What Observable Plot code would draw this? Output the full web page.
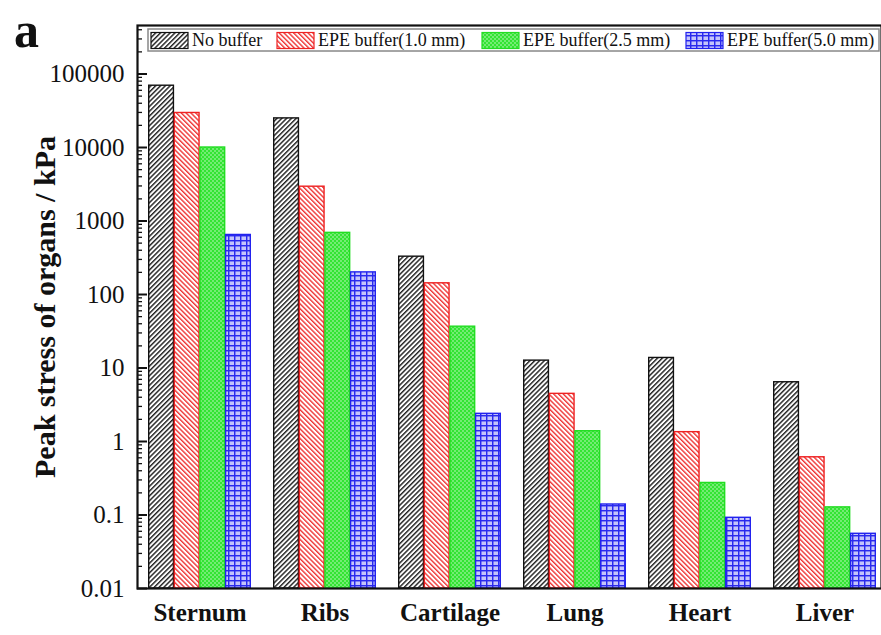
<!DOCTYPE html>
<html><head><meta charset="utf-8">
<script src="https://cdn.jsdelivr.net/npm/d3@7"></script>
<script src="https://cdn.jsdelivr.net/npm/@observablehq/plot@0.6"></script>
<style>
body{margin:0;background:#fff;}
#chart svg{font-family:"Liberation Serif","Times New Roman",serif;background:#fff;}
#chart svg text{font-family:"Liberation Serif","Times New Roman",serif;}
</style></head><body><div id="chart"></div>
<script>
const organs = ["Sternum", "Ribs", "Cartilage", "Lung", "Heart", "Liver"];
const seriesNames = ["No buffer", "EPE buffer(1.0 mm)", "EPE buffer(2.5 mm)", "EPE buffer(5.0 mm)"];
const noBuffer = [69300, 24900, 327, 12.6, 13.7, 6.4];
const epe10 = [29500, 2930, 142, 4.45, 1.34, 0.61];
const epe25 = [10000, 690, 36.5, 1.38, 0.273, 0.127];
const epe50 = [646, 200, 2.38, 0.139, 0.0916, 0.0555];
const yTicks = [0.01, 0.1, 1, 10, 100, 1000, 10000, 100000];
const yTickLabels = ["0.01", "0.1", "1", "10", "100", "1000", "10000", "100000"];
const yTitle = "Peak stress of organs / kPa";
const panelLabel = "a";

const seriesValues = [noBuffer, epe10, epe25, epe50];
const strokeColors = ["#111111", "#ee2222", "#22dd22", "#2222ee"];

const W = 881, H = 635, mL = 137, mT = 25, mB = 47, mR = 0;
const xRange = [137, 887], padIn = 0.18, padOut = 0.09;
const bw = d3.scaleBand().domain(organs).range(xRange).paddingInner(padIn).paddingOuter(padOut).bandwidth();
const q = bw / 4;

const data = organs.flatMap((o, i) => seriesValues.map((vals, j) => ({organ: o, series: j, value: vals[i]})));

// minor ticks (2..9 per decade)
const minorTicks = [];
for (let e = -2; e <= 5; e++) for (let m = 2; m <= 9; m++) {
  const v = +(m * Math.pow(10, e)).toPrecision(3);
  if (v < 457000) minorTicks.push(v);
}

function defsMark() {
  const g = d3.create("svg:g");
  const defs = g.append("defs");
  let p = defs.append("pattern").attr("id", "pat0").attr("patternUnits", "userSpaceOnUse")
    .attr("width", 3.4).attr("height", 3.4).attr("patternTransform", "rotate(45)");
  p.append("rect").attr("width", 3.4).attr("height", 3.4).attr("fill", "#fff");
  p.append("line").attr("x1", 0.7).attr("x2", 0.7).attr("y1", 0).attr("y2", 3.4).attr("stroke", "#222").attr("stroke-width", 1.5);
  p = defs.append("pattern").attr("id", "pat1").attr("patternUnits", "userSpaceOnUse")
    .attr("width", 3.4).attr("height", 3.4).attr("patternTransform", "rotate(-45)");
  p.append("rect").attr("width", 3.4).attr("height", 3.4).attr("fill", "#fff");
  p.append("line").attr("x1", 0.7).attr("x2", 0.7).attr("y1", 0).attr("y2", 3.4).attr("stroke", "#ee3333").attr("stroke-width", 1.4);
  p = defs.append("pattern").attr("id", "pat2").attr("patternUnits", "userSpaceOnUse")
    .attr("width", 4).attr("height", 4);
  p.append("rect").attr("width", 4).attr("height", 4).attr("fill", "#33e433");
  p.append("circle").attr("cx", 1).attr("cy", 1).attr("r", 0.8).attr("fill", "#c8f8c8");
  p.append("circle").attr("cx", 3).attr("cy", 3).attr("r", 0.8).attr("fill", "#c8f8c8");
  p = defs.append("pattern").attr("id", "pat3").attr("patternUnits", "userSpaceOnUse")
    .attr("width", 6).attr("height", 5);
  p.append("rect").attr("width", 6).attr("height", 5).attr("fill", "#c4c4fb");
  p.append("line").attr("x1", 0).attr("x2", 6).attr("y1", 0.7).attr("y2", 0.7).attr("stroke", "#2a2aee").attr("stroke-width", 1.5);
  p.append("line").attr("x1", 0.7).attr("x2", 0.7).attr("y1", 0).attr("y2", 5).attr("stroke", "#2a2aee").attr("stroke-width", 1.5);
  return g.node();
}

function legendMark() {
  const g = d3.create("svg:g").attr("text-anchor", "start");
  g.append("rect").attr("x", 148).attr("y", 29).attr("width", 731).attr("height", 22)
    .attr("fill", "#fff").attr("stroke", "#888").attr("stroke-width", 1.5);
  const xs = [151, 277, 482, 686];
  seriesNames.forEach((name, j) => {
    g.append("rect").attr("x", xs[j]).attr("y", 32.5).attr("width", 37).attr("height", 16)
      .attr("fill", `url(#pat${j})`).attr("stroke", strokeColors[j]).attr("stroke-width", 1.2);
    g.append("text").attr("x", xs[j] + 41).attr("y", 46).attr("font-size", 18)
      .attr("text-anchor", "start").attr("fill", "#111").text(name);
  });
  g.append("text").attr("x", 14).attr("y", 47).attr("font-size", 50).attr("font-weight", "bold")
    .attr("text-anchor", "start").attr("fill", "#111").text(panelLabel);
  return g.node();
}

const barMarks = seriesValues.map((_, j) => Plot.barY(data.filter(d => d.series === j), {
  x: "organ", y1: 0.01, y2: "value",
  fill: `url(#pat${j})`, stroke: strokeColors[j], strokeWidth: 1.4,
  insetLeft: j * q + 0.7, insetRight: (3 - j) * q + 0.7
}));

const plot = Plot.plot({
  width: W, height: H,
  marginLeft: mL, marginTop: mT, marginBottom: mB, marginRight: mR,
  style: {fontFamily: "'Liberation Serif','Times New Roman',serif", background: "#fff", color: "#111"},
  x: {domain: organs, range: xRange, paddingInner: padIn, paddingOuter: padOut},
  y: {type: "log", domain: [0.01, 457000]},
  marks: [
    defsMark,
    ...barMarks,
    Plot.tickY(yTicks, {y: d => d, insetRight: (W - mL - mR) - 10, stroke: "#111", strokeWidth: 2}),
    Plot.tickY(minorTicks, {y: d => d, insetRight: (W - mL - mR) - 5, stroke: "#111", strokeWidth: 1.3}),
    Plot.axisY({ticks: yTicks, tickFormat: d => yTickLabels[yTicks.indexOf(d)], tickSize: 0, tickPadding: 13, fontSize: 25, label: null}),
    Plot.axisX({tickSize: 0, tickPadding: 15, fontSize: 25, fontWeight: "bold", label: null}),
    Plot.text([yTitle], {frameAnchor: "left", textAnchor: "middle", rotate: -90, dx: -92, fontSize: 30, fontWeight: "bold", fill: "#111"}),
    legendMark,
    Plot.frame({stroke: "#111", strokeWidth: 2.2})
  ]
});
document.getElementById("chart").appendChild(plot);
</script>
</body></html>
